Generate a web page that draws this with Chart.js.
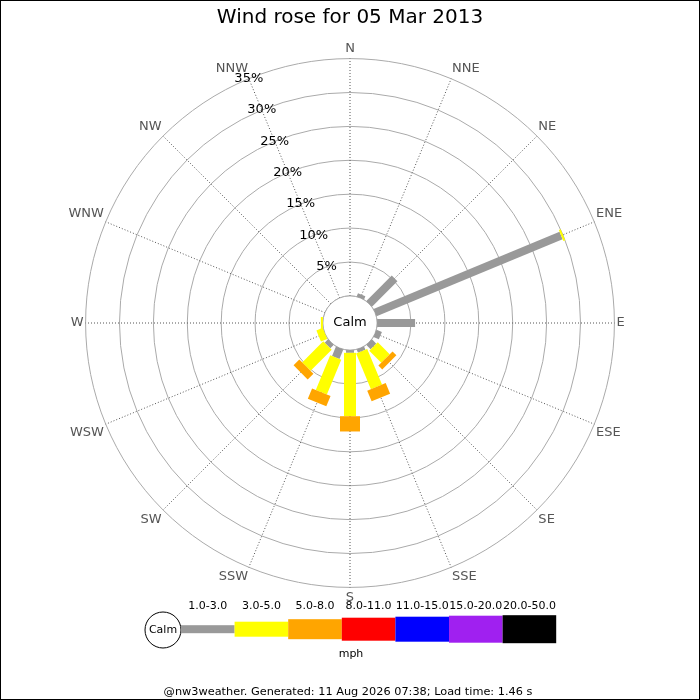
<!DOCTYPE html>
<html>
<head>
<meta charset="utf-8">
<title>Wind rose</title>
<script src="https://cdn.jsdelivr.net/npm/chart.js@4.4.0/dist/chart.umd.min.js"></script>
<style>
  html, body { margin: 0; padding: 0; background: #fff; }
  #wrap { width: 700px; height: 700px; position: relative; }
</style>
</head>
<body>
<div id="wrap"><canvas id="rose"></canvas></div>
<script>
const titleText = 'Wind rose for 05 Mar 2013';
const footerText = '@nw3weather. Generated: 11 Aug 2026 07:38; Load time: 1.46 s';
const unitText = 'mph';

const directions = ['N', 'NNE', 'NE', 'ENE', 'E', 'ESE', 'SE', 'SSE', 'S', 'SSW', 'SW', 'WSW', 'W', 'WNW', 'NW', 'NNW'];
const speedBands = ['1.0-3.0', '3.0-5.0', '5.0-8.0', '8.0-11.0', '11.0-15.0', '15.0-20.0', '20.0-50.0'];
const bandColors = ['#999999', '#ffff00', '#ffa500', '#ff0000', '#0000ff', '#a020f0', '#000000'];

// % of the day per direction, one array per speed band
const band1to3 = [0, 0.5, 5.3, 29.7, 5.6, 0.85, 0.9, 0.5, 0.4, 1.5, 0.7, 0, 0, 0, 0, 0];
const band3to5 = [0, 0, 0, 0.3, 0, 0, 2.5, 5.7, 9.35, 5.55, 4.4, 1.0, 0.3, 0, 0, 0];
const band5to8 = [0, 0, 0, 0, 0, 0, 0.8, 1.7, 2.25, 1.65, 1.2, 0, 0, 0, 0, 0];
const band8to11 = [0, 0, 0, 0, 0, 0, 0, 0, 0, 0, 0, 0, 0, 0, 0, 0];
const band11to15 = [0, 0, 0, 0, 0, 0, 0, 0, 0, 0, 0, 0, 0, 0, 0, 0];
const band15to20 = [0, 0, 0, 0, 0, 0, 0, 0, 0, 0, 0, 0, 0, 0, 0, 0];
const band20to50 = [0, 0, 0, 0, 0, 0, 0, 0, 0, 0, 0, 0, 0, 0, 0, 0];

const tickValues = [5, 10, 15, 20, 25, 30, 35];
const tickLabels = ['5%', '10%', '15%', '20%', '25%', '30%', '35%'];

// drawing sizes
const barWidths = [8, 12, 20, 22, 24, 26, 28];
const keyHeights = [8, 15, 20, 23, 25, 27, 28];
const keyWidth = 53.6;
const FONT = '"DejaVu Sans"';

const bands = [band1to3, band3to5, band5to8, band8to11, band11to15, band15to20, band20to50];

// bars are stacked: each band ends where the sum so far ends
var running = directions.map(() => 0);
var datasets = [];
for (var b = 0; b < bands.length; b++) {
    running = running.map((v, i) => v + bands[b][i]);
    datasets.push({
        label: speedBands[b],
        data: running.slice(),
        showLine: false,
        pointRadius: 0,
        pointHoverRadius: 0,
        borderWidth: 0,
        fill: false
    });
}

const rosePlugin = {
    id: 'rose',
    beforeDatasetsDraw(chart) {
        const r = chart.scales.r;
        const ctx = chart.ctx;
        const r0 = r.getDistanceFromCenterForValue(0);
        ctx.save();

        // calm hole
        ctx.beginPath();
        ctx.arc(r.xCenter, r.yCenter, r0, 0, 2 * Math.PI);
        ctx.fillStyle = '#fff';
        ctx.fill();
        ctx.strokeStyle = '#aaa';
        ctx.lineWidth = 1;
        ctx.stroke();

        // percentage labels along the NNW spoke
        ctx.font = '13px ' + FONT;
        ctx.fillStyle = '#000';
        ctx.textAlign = 'center';
        ctx.textBaseline = 'middle';
        tickValues.forEach((v, k) => {
            const p = r.getPointPositionForValue(15, v);
            ctx.fillText(tickLabels[k], p.x, p.y);
        });

        // stacked bars
        ctx.lineCap = 'butt';
        chart.data.datasets.forEach((ds, b) => {
            const meta = chart.getDatasetMeta(b);
            meta.data.forEach((pt, i) => {
                const prev = b === 0 ? 0 : chart.data.datasets[b - 1].data[i];
                if (ds.data[i] - prev <= 0) return;
                const from = b === 0 ? r.getPointPositionForValue(i, 0) : chart.getDatasetMeta(b - 1).data[i];
                ctx.beginPath();
                ctx.moveTo(from.x, from.y);
                ctx.lineTo(pt.x, pt.y);
                ctx.lineWidth = barWidths[b];
                ctx.strokeStyle = bandColors[b];
                ctx.stroke();
            });
        });

        ctx.fillStyle = '#000';
        ctx.font = '13px ' + FONT;
        ctx.fillText('Calm', r.xCenter, r.yCenter);
        ctx.restore();
    },
    afterDraw(chart) {
        const ctx = chart.ctx;
        ctx.save();
        ctx.textAlign = 'center';
        ctx.textBaseline = 'middle';

        // key
        ctx.beginPath();
        ctx.arc(163, 630, 18, 0, 2 * Math.PI);
        ctx.fillStyle = '#fff';
        ctx.fill();
        ctx.strokeStyle = '#000';
        ctx.lineWidth = 1;
        ctx.stroke();
        ctx.fillStyle = '#000';
        ctx.font = '11px ' + FONT;
        ctx.fillText('Calm', 163, 630);

        var x = 181;
        speedBands.forEach((lab, b) => {
            const h = keyHeights[b];
            ctx.fillStyle = bandColors[b];
            ctx.fillRect(x, 629.2 - h / 2, keyWidth, h);
            ctx.fillStyle = '#000';
            ctx.fillText(lab, x + keyWidth / 2, 606.5);
            x += keyWidth;
        });
        ctx.fillText(unitText, 351, 654);

        ctx.font = '11.3px ' + FONT;
        ctx.fillText(footerText, 348, 692);

        ctx.strokeStyle = '#000';
        ctx.strokeRect(0.5, 0.5, 699, 699);
        ctx.restore();
    }
};

Chart.defaults.font.family = FONT;

new Chart(document.getElementById('rose'), {
    type: 'radar',
    data: {
        labels: directions,
        datasets: datasets
    },
    options: {
        responsive: true,
        maintainAspectRatio: false,
        animation: false,
        layout: { padding: { top: 0, bottom: 94, left: 0, right: 0 } },
        plugins: {
            legend: { display: false },
            tooltip: { enabled: false },
            title: {
                display: true,
                text: titleText,
                color: '#000',
                font: { size: 20, weight: 'normal' },
                padding: { top: 6, bottom: 12 }
            }
        },
        scales: {
            r: {
                min: -4,
                max: 35,
                ticks: { stepSize: 5, display: false },
                grid: {
                    circular: true,
                    lineWidth: 1,
                    color: (c) => (c.tick && c.tick.value < 0) ? 'rgba(0,0,0,0)' : '#aaa'
                },
                angleLines: {
                    color: '#555',
                    lineWidth: 1,
                    borderDash: [1, 2]
                },
                pointLabels: {
                    color: '#555',
                    padding: 2,
                    font: { size: 13 }
                }
            }
        }
    },
    plugins: [rosePlugin]
});
</script>
</body>
</html>
